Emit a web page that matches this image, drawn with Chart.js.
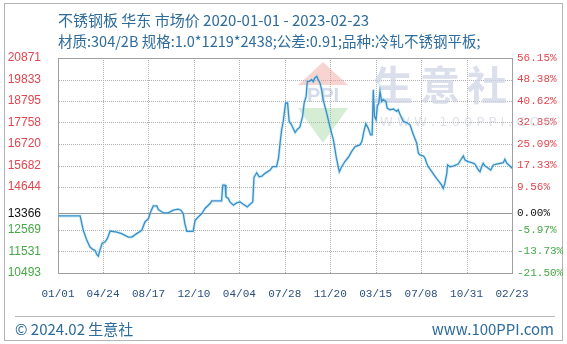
<!DOCTYPE html>
<html>
<head>
<meta charset="utf-8">
<script src="https://cdn.jsdelivr.net/npm/chart.js@4.4.1/dist/chart.umd.min.js"></script>
<style>
  body { margin: 0; background: #fff; }
  #wrap { position: relative; width: 567px; height: 344px; overflow: hidden; font-family: "Noto Sans CJK SC", "Noto Sans", sans-serif; }
  #frame { position: absolute; left: 4px; top: 3px; width: 557px; height: 336px; border: 1px solid #b4b4b4; }
  .txt { position: absolute; white-space: nowrap; color: #2d6c9c; font-size: 14px; line-height: 18px; }
  #title { left: 58px; top: 11px; font-size: 15px; }
  #subtitle { left: 58px; top: 32px; font-size: 14.5px; }
  #rule { position: absolute; left: 15px; top: 316px; width: 540px; height: 1px; background: #b8b8b8; }
  #copy { left: 15px; top: 320px; font-size: 15px; }
  #site { right: 13px; top: 320px; font-size: 15px; }
  #lines { position: absolute; left: 0; top: 0; width: 567px; height: 344px; }
  #lines div { position: absolute; }
  .gv { width: 0; border-left: 1px dotted #b0b0b0; }
  .gh { height: 0; border-top: 1px dotted #b0b0b0; }
  .base { height: 1px; background: #999; }
  .box { border: 1px solid #a0a0a0; box-sizing: border-box; }
  canvas { position: absolute; left: 0; top: 0; }
</style>
</head>
<body>
<div id="wrap">
  <div id="frame"></div>
  <div id="lines"></div>
  <canvas id="chart" width="567" height="344"></canvas>
  <div class="txt" id="title">不锈钢板 华东 市场价 2020-01-01 - 2023-02-23</div>
  <div class="txt" id="subtitle">材质:304/2B 规格:1.0*1219*2438;公差:0.91;品种:冷轧不锈钢平板;</div>
  <div id="rule"></div>
  <div class="txt" id="copy">© 2024.02 生意社</div>
  <div class="txt" id="site">www.100PPI.com</div>
</div>
<script>
// days since 2020-01-01
const days = [0, 56, 64, 73, 81, 88, 94, 98, 102, 106, 112, 119, 125, 132, 149, 161, 178, 187, 199, 212,
  220, 229, 233, 241, 250, 254, 267, 279, 292, 304, 311, 317, 321, 326, 342, 347, 355, 364, 372, 385,
  389, 414, 417, 423, 425, 431, 435, 444, 452, 461, 469, 479, 486, 493, 496, 503, 509, 516, 524, 537,
  543, 553, 558, 562, 566, 570, 576, 581, 585, 591, 600, 606, 612, 619, 623, 628, 631, 636, 642, 646,
  650, 655, 659, 663, 667, 671, 680, 688, 697, 704, 710, 712, 718, 726, 735, 743, 752, 764, 769, 774,
  779, 785, 791, 795, 798, 801, 805, 808, 812, 815, 819, 823, 830, 833, 840, 849, 857, 861, 866, 874,
  882, 891, 898, 903, 908, 912, 916, 925, 929, 933, 937, 946, 952, 958, 965, 971, 975, 979, 984, 986,
  992, 1000, 1013, 1022, 1026, 1030, 1038, 1047, 1055, 1064, 1068, 1072, 1076, 1081, 1089, 1095, 1102, 1110, 1127, 1131,
  1136, 1144, 1149];
const prices = [13250, 13250, 12553, 12068, 11743, 11632, 11583, 11389, 11307, 11583, 11937, 11986, 12165, 12519, 12471, 12393, 12228, 12228, 12393, 12553,
  12956, 13121, 13363, 13732, 13732, 13557, 13392, 13392, 13523, 13571, 13523, 13363, 12878, 12505, 12505, 13038, 13198, 13363, 13606, 13848,
  13974, 13974, 14736, 14736, 14169, 14091, 13926, 13766, 13878, 13926, 13814, 13684, 13814, 13926, 15109, 15332, 15138, 15172, 15303, 15463,
  15623, 15623, 16031, 16758, 17403, 17806, 18698, 18698, 17806, 17646, 17272, 17437, 17534, 18048, 18698, 19018, 19746, 19746, 19828, 19731,
  19911, 19988, 19794, 19668, 19343, 18858, 18213, 17563, 16918, 16108, 15546, 15381, 15623, 15866, 16079, 16351, 16593, 16676, 16836, 17321,
  17694, 17486, 17161, 17161, 19343, 18048, 17888, 18533, 18698, 19261, 18776, 18858, 18776, 18456, 18373, 18407, 18291, 18373, 18131, 17806,
  17757, 17646, 17243, 16999, 16758, 16273, 16191, 16142, 16031, 15788, 15623, 15381, 15221, 15061, 14896, 14736, 14576, 14818, 15303, 15706,
  15623, 15657, 15754, 16031, 16142, 15948, 15866, 15817, 15754, 15463, 15381, 15623, 15788, 15657, 15546, 15463, 15706, 15754, 15817, 15982,
  15788, 15657, 15546];

const xTickDays = [0, 114, 229, 344, 459, 574, 689, 804, 919, 1034, 1149];
const xTickLabels = ['01/01', '04/24', '08/17', '12/10', '04/04', '07/28', '11/20', '03/15', '07/08', '10/31', '02/23'];
const priceTicks = [10493, 11531, 12569, 13366, 14644, 15682, 16720, 17758, 18795, 19833, 20871];
const changeLabels = ['-21.50%', '-13.73%', '-5.97%', '0.00%', '9.56%', '17.33%', '25.09%', '32.85%', '40.62%', '48.38%', '56.15%'];
const basePrice = 13366;

const points = days.map((d, i) => ({ x: d, y: prices[i] }));

function tickColor(ctx) {
    const v = ctx.tick.value;
    if (v > basePrice) return '#e0464f';
    if (v < basePrice) return '#45a845';
    return '#111';
}

// faint watermark behind the line
const watermark = {
    id: 'watermark',
    beforeDatasetsDraw(chart) {
        const ctx = chart.ctx;
        ctx.save();
        ctx.fillStyle = 'rgba(238,160,150,0.45)';
        ctx.beginPath(); ctx.moveTo(298, 85); ctx.lineTo(323, 62); ctx.lineTo(348, 85); ctx.closePath(); ctx.fill();
        ctx.fillStyle = 'rgba(150,210,150,0.40)';
        ctx.beginPath(); ctx.moveTo(298, 108); ctx.lineTo(348, 108); ctx.lineTo(323, 143); ctx.closePath(); ctx.fill();
        ctx.fillStyle = 'rgba(175,188,215,0.55)';
        ctx.font = 'bold 20px "Liberation Sans"';
        ctx.textAlign = 'center'; ctx.textBaseline = 'middle';
        ctx.fillText('PPI', 323, 96);
        ctx.fillStyle = 'rgba(205,212,228,0.75)';
        ctx.font = 'bold 40px "Noto Sans CJK SC"';
        ['生', '意', '社'].forEach((c, i) => ctx.fillText(c, 393 + i * 47, 85));
        ctx.font = '13px "DejaVu Sans"';
        ctx.fillStyle = 'rgba(200,205,215,0.6)';
        ctx.textAlign = 'left';
        ctx.fillText('W W W . 1 0 0 P P I . C O M', 380, 123);
        ctx.restore();
    }
};

// grid, base line and plot box as page elements placed from the chart's scales
function placeLines(chart) {
    const box = document.getElementById('lines');
    box.innerHTML = '';
    const a = chart.chartArea;
    const sx = chart.scales.x, sy = chart.scales.y;
    const L = Math.round(a.left), R = Math.round(a.right), T = Math.round(a.top), B = Math.round(a.bottom);
    const add = (cls, css) => {
        const d = document.createElement('div');
        d.className = cls;
        Object.assign(d.style, css);
        box.appendChild(d);
    };
    xTickDays.forEach(d => {
        const x = Math.round(sx.getPixelForValue(d));
        add('gv', { left: x + 'px', top: T + 'px', height: (B - T) + 'px' });
    });
    priceTicks.forEach(v => {
        const y = Math.round(sy.getPixelForValue(v));
        if (v === basePrice) add('base', { left: L + 'px', top: y + 'px', width: (R - L) + 'px' });
        else add('gh', { left: L + 'px', top: y + 'px', width: (R - L) + 'px' });
    });
    add('box', { left: L + 'px', top: T + 'px', width: (R - L + 1) + 'px', height: (B - T + 1) + 'px' });
}

const chart = new Chart(document.getElementById('chart'), {
    type: 'line',
    data: {
        datasets: [
            {
                data: points,
                borderColor: '#3a8dc6',
                borderWidth: 1.3,
                pointRadius: 0,
                tension: 0
            },
            {
                data: points,
                borderColor: 'rgba(150,215,240,0.45)',
                borderWidth: 3,
                pointRadius: 0,
                tension: 0
            }
        ]
    },
    options: {
        responsive: false,
        animation: false,
        events: [],
        layout: { padding: { top: 58, left: 0, right: 0, bottom: 41 } },
        plugins: { legend: { display: false }, tooltip: { enabled: false } },
        scales: {
            x: {
                type: 'linear',
                min: 0,
                max: 1149,
                afterBuildTicks: s => { s.ticks = xTickDays.map(v => ({ value: v })); },
                afterFit: s => { s.height = 30; },
                grid: { display: false, drawTicks: false },
                border: { display: false },
                ticks: {
                    autoSkip: false,
                    maxRotation: 0,
                    padding: 14,
                    color: '#2a4f7e',
                    font: { family: '"Liberation Mono"', size: 11 },
                    callback: (v, i) => xTickLabels[i]
                }
            },
            y: {
                position: 'left',
                min: 10493,
                max: 20871,
                afterBuildTicks: s => { s.ticks = priceTicks.map(v => ({ value: v })); },
                afterFit: s => { s.width = 58; },
                grid: { display: false, drawTicks: false },
                border: { display: false },
                ticks: {
                    padding: 17,
                    color: tickColor,
                    font: { family: '"Liberation Sans"', size: 12 },
                    callback: v => String(v)
                }
            },
            y2: {
                position: 'right',
                min: 10493,
                max: 20871,
                afterBuildTicks: s => { s.ticks = priceTicks.map(v => ({ value: v })); },
                afterFit: s => { s.width = 55; },
                grid: { display: false, drawTicks: false },
                border: { display: false },
                ticks: {
                    padding: 5,
                    color: tickColor,
                    font: { family: '"Liberation Mono"', size: 11 },
                    callback: (v, i) => changeLabels[i]
                }
            }
        }
    },
    plugins: [watermark]
});
placeLines(chart);
</script>
</body>
</html>
